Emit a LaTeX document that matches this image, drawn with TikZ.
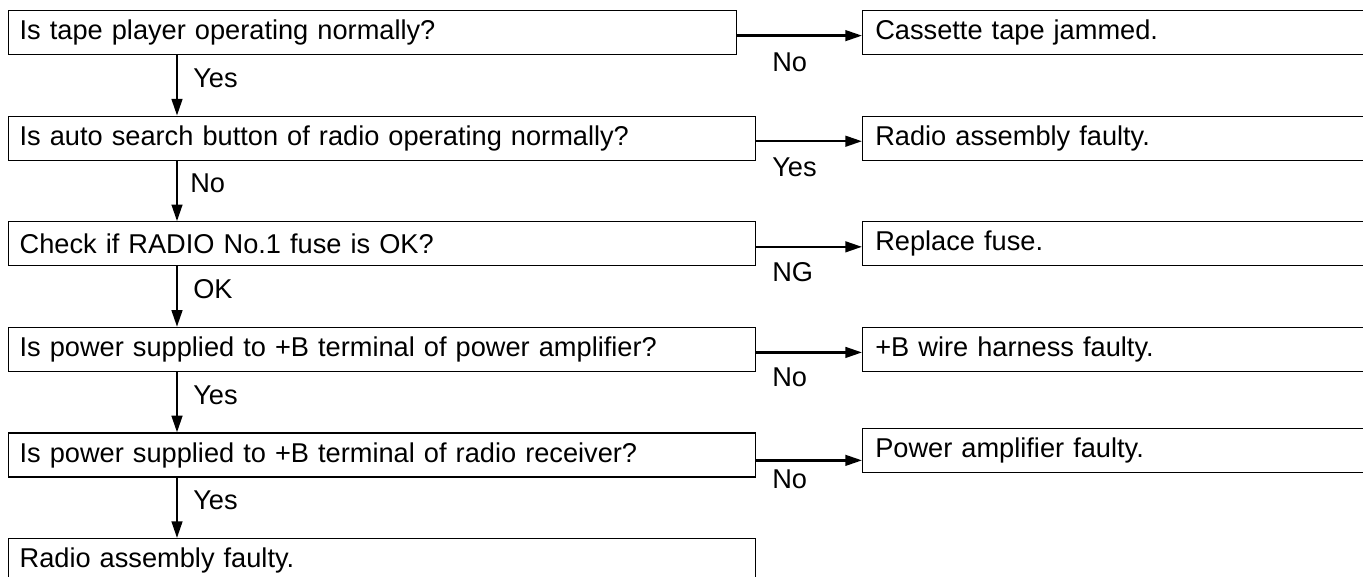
\documentclass[tikz,border=0pt]{standalone}
\usepackage{fontspec}
\setmainfont{Liberation Sans}
\usetikzlibrary{arrows.meta}
\begin{document}
\begin{tikzpicture}[x=0.75pt,y=-0.75pt,
  every node/.style={font=\fontsize{20.4}{24}\selectfont},
  qbox/.style={draw, line width=0.95pt, anchor=north west, minimum height=33pt,
    inner xsep=8.25pt, inner ysep=0pt, text width=#1, align=left},
  rbox/.style={draw, line width=0.95pt, anchor=north west, minimum height=33pt,
    inner xsep=9.5pt, inner ysep=0pt, text width=430pt, align=left},
  arr/.style={line width=1.75pt, -{Triangle[length=12.5pt,width=8pt]}},
  lbl/.style={anchor=west, inner sep=0pt}
]
\useasboundingbox (0,0) rectangle (1363,577);
\clip (0,0) rectangle (1363,577);

\node[qbox=529.5pt] (q1) at (8,10) {Is tape player operating normally?};
\node[qbox=543.75pt] (q2) at (8,115.6) {Is auto search button of radio operating normally?};
\node[qbox=543.75pt] (q3) at (8,221.2) {Check if RADIO No.1 fuse is OK?};
\node[qbox=543.75pt] (q4) at (8,326.8) {Is power supplied to +B terminal of power amplifier?};
\node[qbox=543.75pt] (q5) at (8,432.4) {Is power supplied to +B terminal of radio receiver?};
\node[qbox=543.75pt] (q6) at (8,538) {Radio assembly faulty.};

\node[rbox] (r1) at (862,10) {Cassette tape jammed.};
\node[rbox] (r2) at (862,115.6) {Radio assembly faulty.};
\node[rbox] (r3) at (862,221.2) {Replace fuse.};
\node[rbox] (r4) at (862,326.8) {+B wire harness faulty.};
\node[rbox] (r5) at (862,428) {Power amplifier faulty.};

\foreach \a/\b in {q1/q2,q2/q3,q3/q4,q4/q5,q5/q6}
  \draw[arr] ([xshift=126.75pt]\a.south west) -- ([xshift=126.75pt]\b.north west);

\draw[arr] ([yshift=-2.25pt]q1.east) -- ([yshift=-2.25pt]q1.east -| r1.west);
\draw[arr] ([yshift=-2.25pt]q2.east) -- ([yshift=-2.25pt]q2.east -| r2.west);
\draw[arr] ([yshift=-2.25pt]q3.east) -- ([yshift=-2.25pt]q3.east -| r3.west);
\draw[arr] ([yshift=-2.25pt]q4.east) -- ([yshift=-2.25pt]q4.east -| r4.west);
\draw[arr] ([yshift=-4pt]q5.east) -- ([yshift=-4pt]q5.east -| r5.west);

\node[lbl] (v1) at (193,78) {Yes};
\node[lbl] (v2) at (190,183) {No};
\node[lbl] (v3) at (193,289) {OK};
\node[lbl] (v4) at (193,395) {Yes};
\node[lbl] (v5) at (193,500) {Yes};

\node[lbl] (h1) at (772,62) {No};
\node[lbl] (h2) at (772,167) {Yes};
\node[lbl] (h3) at (772,272) {NG};
\node[lbl] (h4) at (772,377) {No};
\node[lbl] (h5) at (772,479) {No};
\end{tikzpicture}
\end{document}
